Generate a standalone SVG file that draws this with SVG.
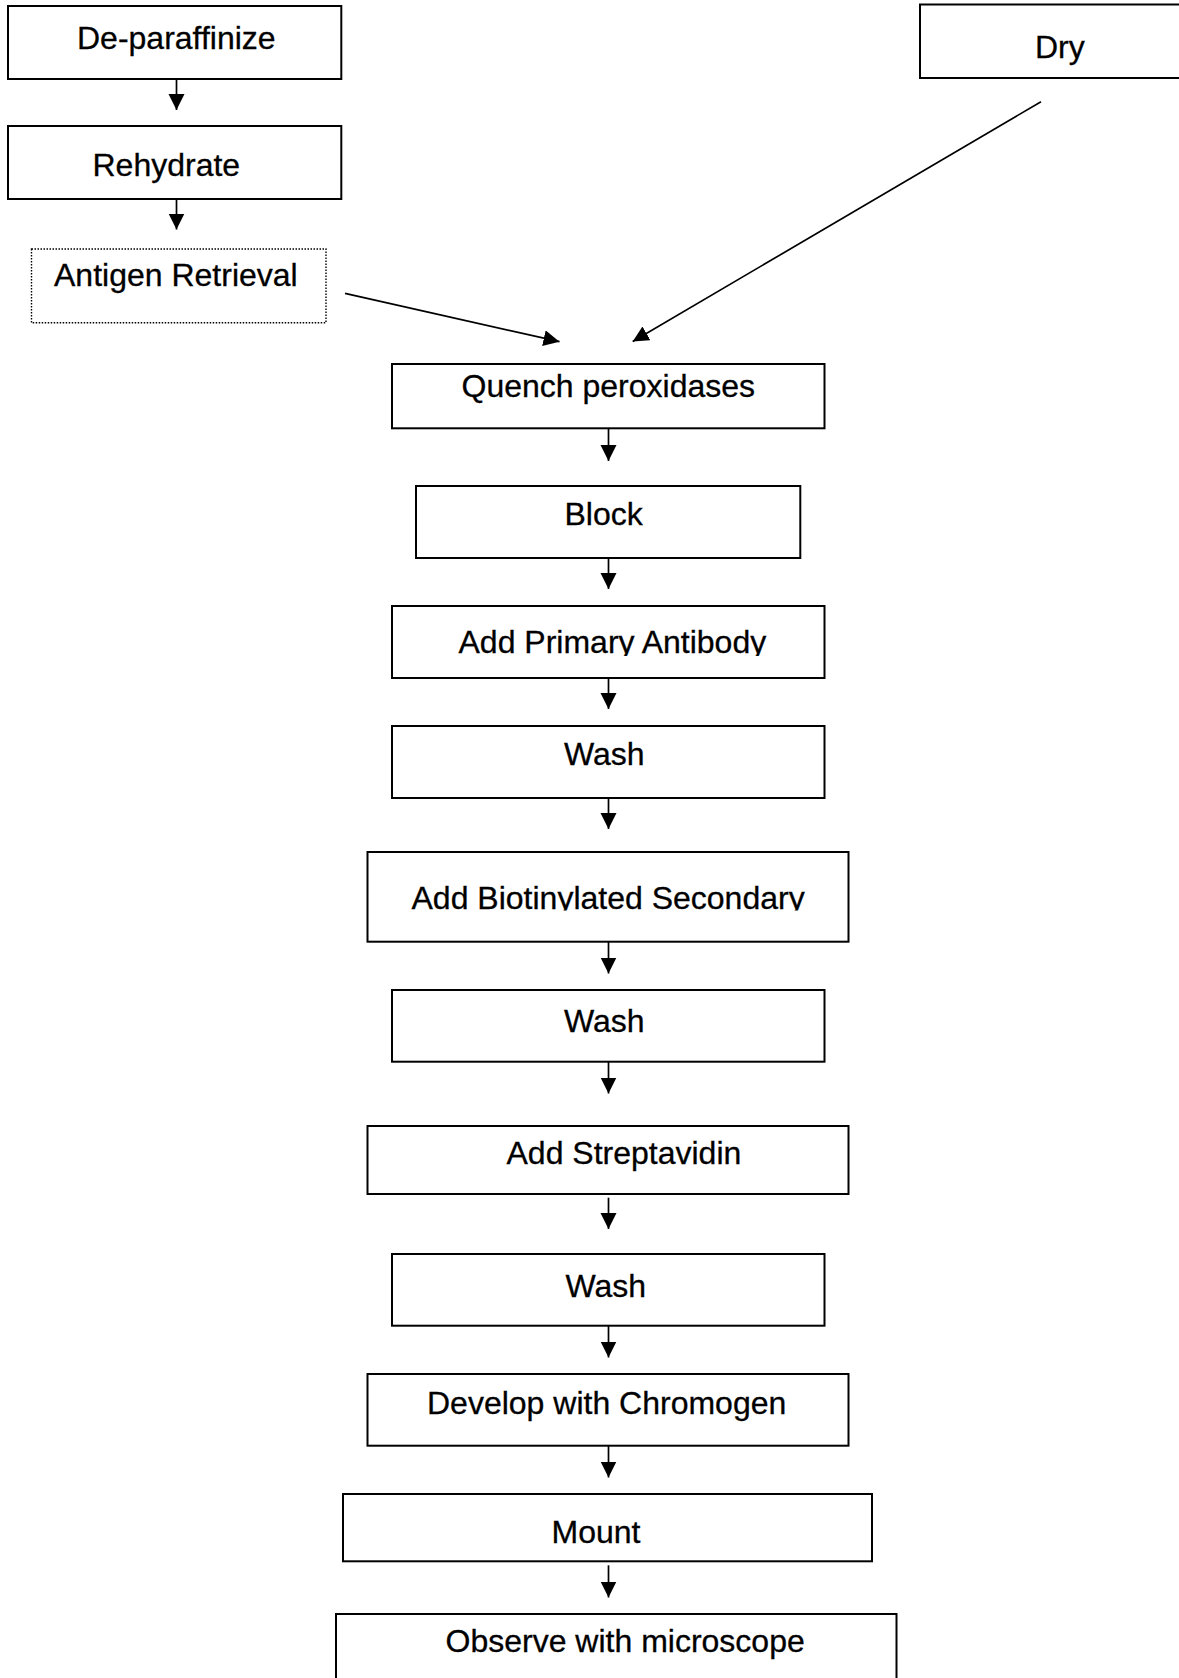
<svg xmlns="http://www.w3.org/2000/svg" width="1179" height="1678" viewBox="0 0 1179 1678">
<style>
.box{fill:#fff;stroke:#000;stroke-width:2}
.dot{fill:#fff;stroke:#000;stroke-width:1.4;stroke-dasharray:1.5 1.5}
.lbl{font-family:"Liberation Sans",Arial,sans-serif;font-size:32px;fill:#000;stroke:#000;stroke-width:0.3}
.con{stroke:#000;stroke-width:1.7;fill:none;marker-end:url(#ah)}
</style>
<defs>
<marker id="ah" markerUnits="userSpaceOnUse" markerWidth="17" markerHeight="17" refX="16" refY="8" orient="auto">
<path d="M0,0 L16,8 L0,16 z" fill="#000"/>
</marker>
<clipPath id="clipPrim"><rect x="380" y="600" width="460" height="56"/></clipPath>
<clipPath id="clipSec"><rect x="360" y="845" width="500" height="65.5"/></clipPath>
</defs>
<rect width="1179" height="1678" fill="#fff"/>
<g id="connectors">
<line class="con" x1="176.5" y1="79" x2="176.5" y2="110"/>
<line class="con" x1="176.5" y1="199" x2="176.5" y2="229.5"/>
<line class="con" x1="345" y1="293.3" x2="559.5" y2="341.7"/>
<line class="con" x1="1041" y1="101.7" x2="632.7" y2="341.5"/>
<line class="con" x1="608.5" y1="428.3" x2="608.5" y2="461"/>
<line class="con" x1="608.5" y1="558" x2="608.5" y2="589"/>
<line class="con" x1="608.5" y1="678" x2="608.5" y2="709"/>
<line class="con" x1="608.5" y1="798" x2="608.5" y2="829"/>
<line class="con" x1="608.5" y1="941.7" x2="608.5" y2="973.5"/>
<line class="con" x1="608.5" y1="1061.7" x2="608.5" y2="1093.5"/>
<line class="con" x1="608.5" y1="1197.7" x2="608.5" y2="1229"/>
<line class="con" x1="608.5" y1="1325.7" x2="608.5" y2="1357.5"/>
<line class="con" x1="608.5" y1="1445.7" x2="608.5" y2="1477.5"/>
<line class="con" x1="608.5" y1="1565.3" x2="608.5" y2="1597.5"/>
</g>
<g id="n-deparaffinize"><rect class="box" x="8" y="6" width="333.3" height="73"/><text class="lbl" x="77" y="48.5">De-paraffinize</text></g>
<g id="n-rehydrate"><rect class="box" x="8" y="126" width="333.3" height="73"/><text class="lbl" x="92.5" y="175.5">Rehydrate</text></g>
<g id="n-antigen"><rect class="dot" x="31.5" y="249" width="294.5" height="73.7"/><text class="lbl" x="54" y="285.5">Antigen Retrieval</text></g>
<g id="n-dry"><rect class="box" x="920" y="4.5" width="263" height="73.5"/><text class="lbl" x="1035" y="57.5">Dry</text></g>
<g id="n-quench"><rect class="box" x="392" y="364" width="432.5" height="64.3"/><text class="lbl" x="461.5" y="396.5">Quench peroxidases</text></g>
<g id="n-block"><rect class="box" x="416" y="486" width="384.3" height="72"/><text class="lbl" x="564.5" y="525">Block</text></g>
<g id="n-primary"><rect class="box" x="392" y="606" width="432.5" height="72"/><text class="lbl" x="458.5" y="652.5" clip-path="url(#clipPrim)">Add Primary Antibody</text></g>
<g id="n-wash1"><rect class="box" x="392" y="726" width="432.5" height="72"/><text class="lbl" x="564" y="765">Wash</text></g>
<g id="n-secondary"><rect class="box" x="367.5" y="852" width="481" height="89.7"/><text class="lbl" x="411.5" y="908.5" clip-path="url(#clipSec)">Add Biotinylated Secondary</text></g>
<g id="n-wash2"><rect class="box" x="392" y="990" width="432.5" height="71.7"/><text class="lbl" x="564" y="1032.3">Wash</text></g>
<g id="n-streptavidin"><rect class="box" x="367.5" y="1126" width="481" height="68"/><text class="lbl" x="506.5" y="1164.3">Add Streptavidin</text></g>
<g id="n-wash3"><rect class="box" x="392" y="1254" width="432.5" height="71.7"/><text class="lbl" x="565.5" y="1296.7">Wash</text></g>
<g id="n-develop"><rect class="box" x="367.5" y="1374" width="481" height="71.7"/><text class="lbl" x="427" y="1414.3">Develop with Chromogen</text></g>
<g id="n-mount"><rect class="box" x="343" y="1494" width="529" height="67.3"/><text class="lbl" x="551.5" y="1543.3">Mount</text></g>
<g id="n-observe"><rect class="box" x="336" y="1614" width="560.5" height="80"/><text class="lbl" x="445.5" y="1652.3">Observe with microscope</text></g>
</svg>
